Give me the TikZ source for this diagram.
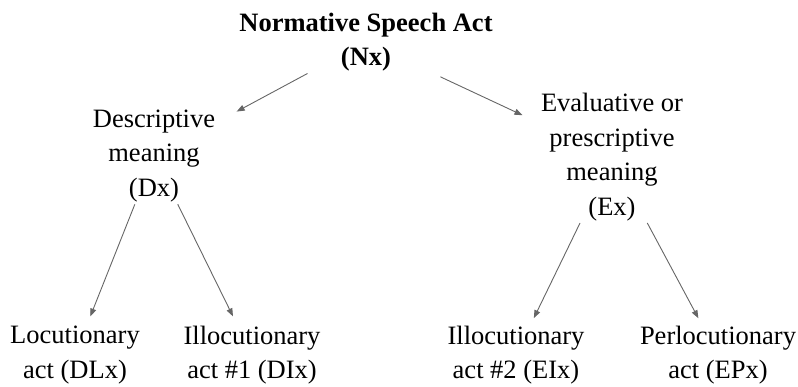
\documentclass[tikz,border=0pt]{standalone}
\usepackage{fontspec}
\setmainfont{Liberation Serif}
\usetikzlibrary{arrows.meta, positioning}
\tikzset{
    concept/.style={align=center, inner sep=2pt,
                    font=\fontsize{26.5}{34.5}\selectfont},
    arrow/.style={-{Triangle[length=8pt, width=6pt]}, draw=black!60, line width=0.9pt},
}

\begin{document}
\begin{tikzpicture}[x=1pt, y=-1pt]

    \useasboundingbox (0,0) rectangle (798,386);

    \node[concept] (nx) at (366,42) {\textbf{Normative Speech Act}\\\textbf{(Nx)}};

    \node[concept] (dx) at (154,156) {Descriptive\\meaning\\(Dx)};
    \node[concept] (ex) at (612,157) {Evaluative or\\prescriptive\\meaning\\(Ex)};

    \node[concept] (dlx) at (75,355) {Locutionary\\act (DLx)};
    \node[concept] (dix) at (252,355) {Illocutionary\\act \#1 (DIx)};
    \node[concept] (eix) at (516,355) {Illocutionary\\act \#2 (EIx)};
    \node[concept] (epx) at (718,355) {Perlocutionary\\act (EPx)};

    % Nx -> Dx, Ex
    \draw[arrow, shorten >=22pt] (nx) -- (dx);
    \draw[arrow, shorten <=8pt, shorten >=18pt] (nx) -- (ex);

    % Dx -> DLx, DIx
    \draw[arrow, shorten >=8pt] (dx) -- (dlx);
    \draw[arrow, shorten >=8pt] (dx) -- (dix);

    % Ex -> EIx, EPx
    \draw[arrow, shorten >=6pt] (ex) -- (eix);
    \draw[arrow, shorten >=6pt] (ex) -- (epx);

\end{tikzpicture}
\end{document}
